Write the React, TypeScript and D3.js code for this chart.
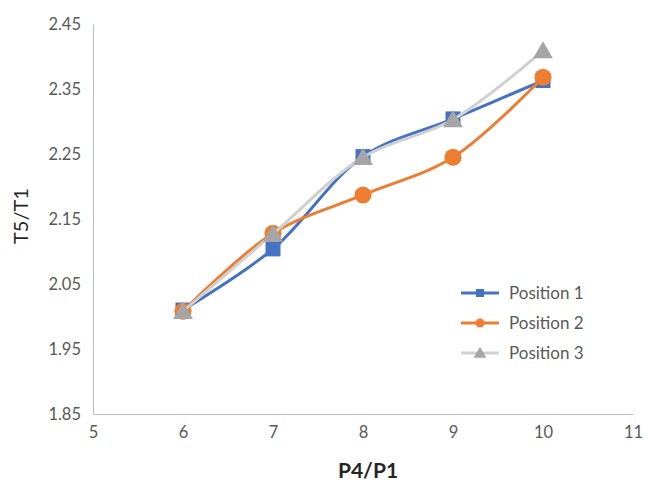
import * as React from "react";
import { useEffect, useRef } from "react";
import { select, scaleLinear, line, curveCatmullRom, axisBottom, axisLeft, symbol, symbolSquare, symbolCircle, symbolTriangle } from "d3";

const xValues = [6, 7, 8, 9, 10];
const position1 = [2.01, 2.104, 2.246, 2.304, 2.363];
const position2 = [2.008, 2.128, 2.187, 2.245, 2.368];
const position3 = [2.008, 2.127, 2.245, 2.303, 2.409];
const xTicks = [5, 6, 7, 8, 9, 10, 11];
const yTicks = [1.85, 1.95, 2.05, 2.15, 2.25, 2.35, 2.45];
const seriesNames = ["Position 1", "Position 2", "Position 3"];

const font = "Lato, 'Open Sans', sans-serif";

function App() {
  const svgRef = useRef<SVGSVGElement>(null);

  useEffect(() => {
    const svg = select(svgRef.current);
    svg.selectAll("*").remove();

    const x = scaleLinear().domain([5, 11]).range([93, 633]);
    const y = scaleLinear().domain([1.85, 2.45]).range([414, 24]);

    const xAxis: any = axisBottom(x).tickValues(xTicks).tickSize(0).tickPadding(12).tickFormat((d: any) => String(d));
    const gx = svg.append("g").attr("transform", "translate(0,414)").call(xAxis);
    gx.select(".domain").attr("stroke", "#bfbfbf").attr("stroke-width", 1);
    gx.selectAll("text").attr("font-size", 16.5).attr("fill", "#595959").attr("font-family", font);

    const yAxis: any = axisLeft(y).tickValues(yTicks).tickSize(0).tickPadding(12).tickFormat((d: any) => d.toFixed(2));
    const gy = svg.append("g").attr("transform", "translate(93,0)").call(yAxis);
    gy.select(".domain").attr("stroke", "#bfbfbf").attr("stroke-width", 1);
    gy.selectAll("text").attr("font-size", 16.5).attr("fill", "#595959").attr("font-family", font);

    svg.append("text")
      .attr("x", 368).attr("y", 478)
      .attr("text-anchor", "middle")
      .attr("font-family", font).attr("font-size", 21).attr("font-weight", "bold")
      .attr("fill", "#262626")
      .text("P4/P1");

    svg.append("text")
      .attr("transform", "translate(28,216) rotate(-90)")
      .attr("text-anchor", "middle")
      .attr("font-family", font).attr("font-size", 20)
      .attr("fill", "#262626")
      .text("T5/T1");

    const series = [
      { name: seriesNames[0], values: position1, color: "#4472c4", lineColor: "#4472c4", shape: symbolSquare, size: 225 },
      { name: seriesNames[1], values: position2, color: "#ed7d31", lineColor: "#ed7d31", shape: symbolCircle, size: 230 },
      { name: seriesNames[2], values: position3, color: "#a5a5a5", lineColor: "#d0d0d0", shape: symbolTriangle, size: 170 },
    ];

    const myLine = line<number>()
      .x((_, i) => x(xValues[i]))
      .y((v) => y(v))
      .curve(curveCatmullRom.alpha(0.5));

    series.forEach((s) => {
      svg.append("path")
        .attr("d", myLine(s.values))
        .attr("fill", "none")
        .attr("stroke", s.lineColor)
        .attr("stroke-width", 3);
      svg.selectAll(null)
        .data(s.values)
        .join("path")
        .attr("transform", (v, i) => `translate(${x(xValues[i])},${y(v) + (s.shape === symbolTriangle ? 2 : 0)})`)
        .attr("d", symbol().type(s.shape).size(s.size)())
        .attr("fill", s.color);
    });

    // legend
    series.forEach((s, i) => {
      const ly = 293 + i * 30;
      svg.append("line")
        .attr("x1", 461).attr("x2", 499).attr("y1", ly).attr("y2", ly)
        .attr("stroke", s.lineColor).attr("stroke-width", 3);
      svg.append("path")
        .attr("transform", `translate(480,${ly + (s.shape === symbolTriangle ? 1 : 0)})`)
        .attr("d", symbol().type(s.shape).size(s.shape === symbolTriangle ? 70 : 64)())
        .attr("fill", s.color);
      svg.append("text")
        .attr("x", 509).attr("y", ly).attr("dy", "0.35em")
        .attr("font-family", font).attr("font-size", 17)
        .attr("fill", "#595959")
        .text(s.name);
    });
  }, []);

  return (
    <svg ref={svgRef} width={645} height={485} style={{ position: "absolute", left: 0, top: 0, background: "#fff" }} />
  );
}

export default App;
